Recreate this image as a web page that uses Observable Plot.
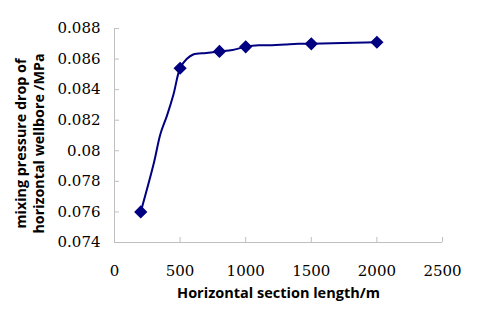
<!DOCTYPE html>
<html>
<head>
<meta charset="utf-8">
<script src="https://cdn.jsdelivr.net/npm/d3@7"></script>
<script src="https://cdn.jsdelivr.net/npm/@observablehq/plot@0.6"></script>
<style>
  html, body { margin: 0; padding: 0; background: #fff; }
  #chart svg { display: block; }
</style>
</head>
<body>
<div id="chart"></div>
<script>
// Curve samples (m, MPa)
const lineLength = [200, 300, 350, 400, 450, 500, 550, 600, 700, 800, 900, 1000, 1100, 1200, 1300, 1400, 1500, 2000];
const linePressure = [0.0760, 0.0792, 0.0811, 0.0823, 0.0837, 0.0854, 0.0860, 0.0863, 0.0864, 0.0865, 0.0866, 0.0868, 0.0869, 0.0869, 0.08695, 0.0870, 0.0870, 0.0871];
// Marked points
const markLength = [200, 500, 800, 1000, 1500, 2000];
const markPressure = [0.0760, 0.0854, 0.0865, 0.0868, 0.0870, 0.0871];
// Axis ticks
const xTicks = [0, 500, 1000, 1500, 2000, 2500];
const yTicks = [0.074, 0.076, 0.078, 0.08, 0.082, 0.084, 0.086, 0.088];
const xTitle = "Horizontal section length/m";
const yTitle = "mixing pressure drop of\nhorizontal wellbore /MPa";

const lineData = lineLength.map((x, i) => ({x, y: linePressure[i]}));
const markData = markLength.map((x, i) => ({x, y: markPressure[i]}));

const color = "#000080";
const axisColor = "#bfbfbf";
const titleFont = "Open Sans";
const tickFont = "DejaVu Serif";

const chart = Plot.plot({
  width: 480,
  height: 322,
  marginLeft: 114,
  marginRight: 38,
  marginTop: 28,
  marginBottom: 80,
  style: "font-family: 'DejaVu Serif', serif; font-size: 15px; color: #000; background: #fff;",
  x: {domain: [0, 2500]},
  y: {domain: [0.074, 0.088]},
  marks: [
    Plot.ruleX([0], {stroke: axisColor}),
    Plot.ruleY([0.074], {stroke: axisColor}),
    Plot.axisY({ticks: yTicks, tickFormat: d => String(d), tickSize: -5, tickPadding: 19, stroke: axisColor, label: null, fill: "#000"}),
    Plot.axisX({ticks: xTicks, tickFormat: d => String(d), tickSize: -5, tickPadding: 28, stroke: axisColor, label: null, fill: "#000"}),
    Plot.line(lineData, {x: "x", y: "y", stroke: color, strokeWidth: 2, curve: "catmull-rom"}),
    Plot.dot(markData, {x: "x", y: "y", symbol: "diamond2", r: 5, fill: color, stroke: color}),
    Plot.text([xTitle], {frameAnchor: "bottom", dy: 55, fontFamily: titleFont, fontWeight: "bold", fontSize: 14.5, fill: "#000"}),
    Plot.text([yTitle], {frameAnchor: "left", textAnchor: "middle", dx: -85, dy: 8, rotate: -90, fontFamily: titleFont, fontWeight: "bold", fontSize: 14.3, lineHeight: 1.2, fill: "#000"})
  ]
});
d3.select(chart).selectAll("g[aria-label$='tick label']")
  .attr("font-family", tickFont).attr("font-size", 15)
  .selectAll("text").style("font-family", tickFont).style("font-size", "15px");
document.getElementById("chart").appendChild(chart);
</script>
</body>
</html>
